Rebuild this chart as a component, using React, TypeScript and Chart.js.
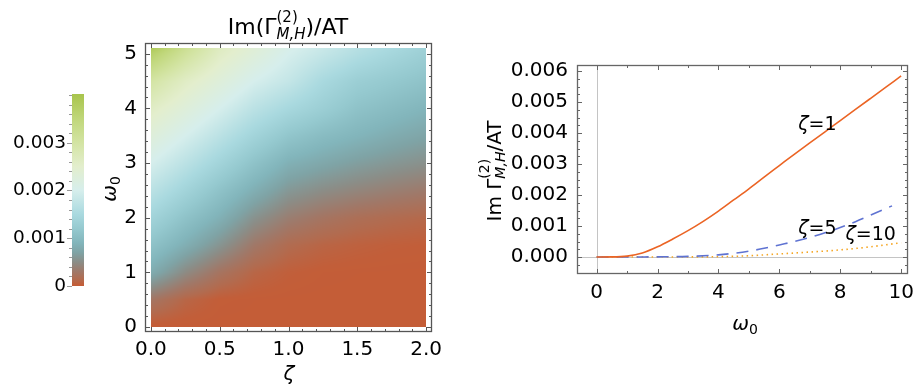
import React, { useEffect, useRef } from "react";
import { Chart, registerables } from "chart.js";
Chart.register(...registerables);

const FONT = "'DejaVu Sans', 'Liberation Sans', sans-serif";

// ---------------- colour bar ----------------
const colorbarTicks = [0, 0.001, 0.002, 0.003];
const colorbarTickLabels = ["0", "0.001", "0.002", "0.003"];
const colorbarMax = 0.00402;
const colorStopValues = [0, 0.00003, 0.00014, 0.0003, 0.0005, 0.0007, 0.0009, 0.0012, 0.0015, 0.002, 0.0025, 0.003, 0.0035, 0.004];
const colorStopColors = ["#c45d37", "#c25e39", "#b26b4f", "#a07868", "#8b8d87", "#7fa3a5", "#82b5bb", "#95c9cf", "#a9d9df", "#d6eeec", "#e3eecd", "#d3e4a3", "#c0d77a", "#a9c54e"];

// ---------------- density plot ----------------
const heatZeta = [0, 0.25, 0.5, 0.75, 1, 1.25, 1.5, 1.75, 2];
const heatOmega = [0, 0.5, 1, 1.5, 2, 2.5, 3, 3.5, 4, 4.5, 5, 5.1];
// one row per ω0 value, across ζ
const heatRow00 = [0, 0, 0, 0, 0, 0, 0, 0, 0];
const heatRow05 = [0.00027, 0.0001, 0.00002, 0.000008, 0.000003, 0.000001, 0, 0, 0];
const heatRow10 = [0.0008, 0.00048, 0.00025, 0.0001, 0.00004, 0.000015, 0.000008, 0.000005, 0.000003];
const heatRow15 = [0.0011, 0.00083, 0.00057, 0.0003, 0.00015, 0.00009, 0.00006, 0.00004, 0.00003];
const heatRow20 = [0.0014, 0.0011, 0.00085, 0.00055, 0.00036, 0.00026, 0.00019, 0.00015, 0.00012];
const heatRow25 = [0.0017, 0.0014, 0.0011, 0.00083, 0.0006, 0.0005, 0.00043, 0.00037, 0.00032];
const heatRow30 = [0.002, 0.0017, 0.0014, 0.0011, 0.00085, 0.00075, 0.00066, 0.00059, 0.00053];
const heatRow35 = [0.0023, 0.002, 0.0017, 0.0014, 0.00115, 0.001, 0.0009, 0.0008, 0.00072];
const heatRow40 = [0.0026, 0.0023, 0.002, 0.0017, 0.00148, 0.0013, 0.0011, 0.001, 0.0009];
const heatRow45 = [0.003, 0.0026, 0.0023, 0.002, 0.0018, 0.0015, 0.0013, 0.0012, 0.0011];
const heatRow50 = [0.0037, 0.0031, 0.0026, 0.0023, 0.002, 0.0018, 0.0016, 0.00145, 0.0013];
const heatRow51 = [0.0039, 0.0032, 0.00265, 0.00235, 0.00205, 0.00185, 0.00165, 0.0015, 0.00135];
const heatRows = [heatRow00, heatRow05, heatRow10, heatRow15, heatRow20, heatRow25, heatRow30, heatRow35, heatRow40, heatRow45, heatRow50, heatRow51];

const heatXTicks = [0, 0.5, 1, 1.5, 2];
const heatXLabels = ["0.0", "0.5", "1.0", "1.5", "2.0"];
const heatYTicks = [0, 1, 2, 3, 4, 5];
const heatYLabels = ["0", "1", "2", "3", "4", "5"];

// ---------------- line plot ----------------
const omegaZeta1 = [0, 0.5, 1, 1.5, 2, 2.5, 3, 3.5, 4, 4.5, 5, 5.5, 6, 6.5, 7, 7.5, 8, 8.5, 9, 9.5, 10];
const valuesZeta1 = [0, 0.000003, 0.00003, 0.00013, 0.00033, 0.00058, 0.00085, 0.00115, 0.00148, 0.00184, 0.0022, 0.00258, 0.00295, 0.00332, 0.00368, 0.00404, 0.0044, 0.00476, 0.00512, 0.00548, 0.00584];
const omegaZeta5 = [0, 1, 2, 3, 4, 4.5, 5, 5.5, 6, 6.5, 7, 7.5, 8, 8.5, 9, 9.7];
const valuesZeta5 = [0, 0.000001, 0.000005, 0.00002, 0.00007, 0.00012, 0.00019, 0.00028, 0.00039, 0.0005, 0.00063, 0.00078, 0.00095, 0.00114, 0.00135, 0.00165];
const omegaZeta10 = [0, 1, 2, 3, 4, 5, 6, 7, 8, 9, 10];
const valuesZeta10 = [0, 0, 0.000001, 0.000003, 0.00001, 0.00004, 0.0001, 0.00016, 0.00023, 0.00033, 0.00046];

const curveNames = ["1", "5", "10"];
const curveLabelOmega = [7.25, 7.25, 9.0];
const curveLabelValue = [0.00432, 0.00097, 0.00077];

const lineXTicks = [0, 2, 4, 6, 8, 10];
const lineXLabels = ["0", "2", "4", "6", "8", "10"];
const lineYTicks = [0, 0.001, 0.002, 0.003, 0.004, 0.005, 0.006];
const lineYLabels = ["0.000", "0.001", "0.002", "0.003", "0.004", "0.005", "0.006"];

// ---------------- helpers ----------------
function steps(from: number, to: number, step: number) {
  const out: number[] = [];
  for (let i = 0; from + i * step <= to + 1e-12; i++) out.push(+(from + i * step).toFixed(8));
  return out;
}

const fnt = (size: number, italic = false) => `${italic ? "italic " : ""}${size}px ${FONT}`;

type Piece = { t?: string; size: number; italic?: boolean; dy?: number; sup?: string; sub?: string; supDy?: number; subDy?: number };

function pieceWidth(ctx: CanvasRenderingContext2D, p: Piece) {
  if (p.sup !== undefined) {
    ctx.font = fnt(p.size);
    const a = ctx.measureText(p.sup).width;
    ctx.font = fnt(p.size, true);
    const b = ctx.measureText(p.sub || "").width;
    return Math.max(a, b);
  }
  ctx.font = fnt(p.size, p.italic);
  return ctx.measureText(p.t || "").width;
}

function drawRich(ctx: CanvasRenderingContext2D, pieces: Piece[], x: number, y: number) {
  ctx.save();
  ctx.textAlign = "left";
  ctx.textBaseline = "alphabetic";
  ctx.fillStyle = "#000";
  const total = pieces.reduce((s, p) => s + pieceWidth(ctx, p), 0);
  let cx = x - total / 2;
  for (const p of pieces) {
    const w = pieceWidth(ctx, p);
    if (p.sup !== undefined) {
      ctx.font = fnt(p.size);
      ctx.fillText(p.sup, cx, y + (p.supDy || 0));
      ctx.font = fnt(p.size, true);
      ctx.fillText(p.sub || "", cx, y + (p.subDy || 0));
    } else {
      ctx.font = fnt(p.size, p.italic);
      ctx.fillText(p.t || "", cx, y + (p.dy || 0));
    }
    cx += w;
  }
  ctx.restore();
}

function drawRotated(ctx: CanvasRenderingContext2D, pieces: Piece[], cx: number, cy: number, baseline: number) {
  ctx.save();
  ctx.translate(cx, cy);
  ctx.rotate(-Math.PI / 2);
  drawRich(ctx, pieces, 0, baseline);
  ctx.restore();
}

function drawFrame(chart: any, xMajor: number[], xMinor: number[], yMajor: number[], yMinor: number[], color: string) {
  const ctx: CanvasRenderingContext2D = chart.ctx;
  const { left, right, top, bottom } = chart.chartArea;
  const xs = chart.scales.x;
  const ys = chart.scales.y;
  ctx.save();
  ctx.strokeStyle = color;
  ctx.lineWidth = 1.3;
  ctx.strokeRect(left + 0.5, top + 0.5, right - left - 1, bottom - top - 1);
  ctx.lineWidth = 1;
  const tick = (x1: number, y1: number, x2: number, y2: number) => {
    ctx.beginPath();
    ctx.moveTo(x1, y1);
    ctx.lineTo(x2, y2);
    ctx.stroke();
  };
  const doX = (vals: number[], len: number) => vals.forEach((v) => {
    const p = Math.round(xs.getPixelForValue(v)) + 0.5;
    tick(p, bottom, p, bottom - len);
    tick(p, top, p, top + len);
  });
  const doY = (vals: number[], len: number) => vals.forEach((v) => {
    const p = Math.round(ys.getPixelForValue(v)) + 0.5;
    tick(left, p, left + len, p);
    tick(right, p, right - len, p);
  });
  doX(xMinor, 3);
  doX(xMajor, 5);
  doY(yMinor, 3);
  doY(yMajor, 5);
  ctx.restore();
}

function axis(position: string, min: number, max: number, values: number[], labels: string[], pad: number, fontSize: number, size: { width?: number; height?: number }) {
  return {
    type: "linear",
    position,
    min,
    max,
    grid: { display: false, drawTicks: false },
    border: { display: false },
    afterBuildTicks: (s: any) => {
      s.ticks = values.map((v) => ({ value: v }));
    },
    afterFit: (s: any) => {
      if (size.width !== undefined) s.width = size.width;
      if (size.height !== undefined) s.height = size.height;
    },
    ticks: {
      autoSkip: false,
      maxRotation: 0,
      minRotation: 0,
      padding: pad,
      color: "#000",
      font: { family: FONT, size: fontSize },
      callback: (_v: any, i: number) => labels[i],
    },
  };
}

const stopRGB = colorStopColors.map((h) => [parseInt(h.slice(1, 3), 16), parseInt(h.slice(3, 5), 16), parseInt(h.slice(5, 7), 16)]);
function colorFor(v: number) {
  const n = colorStopValues.length;
  if (v <= colorStopValues[0]) return stopRGB[0];
  if (v >= colorStopValues[n - 1]) return stopRGB[n - 1];
  let i = 0;
  while (i < n - 2 && v > colorStopValues[i + 1]) i++;
  const t = (v - colorStopValues[i]) / (colorStopValues[i + 1] - colorStopValues[i]);
  const a = stopRGB[i];
  const b = stopRGB[i + 1];
  return [a[0] + (b[0] - a[0]) * t, a[1] + (b[1] - a[1]) * t, a[2] + (b[2] - a[2]) * t];
}

function locate(arr: number[], v: number): [number, number] {
  if (v <= arr[0]) return [0, 0];
  if (v >= arr[arr.length - 1]) return [arr.length - 2, 1];
  let i = 0;
  while (i < arr.length - 2 && v > arr[i + 1]) i++;
  return [i, (v - arr[i]) / (arr[i + 1] - arr[i])];
}

function heatValue(z: number, w: number) {
  const [i, tx] = locate(heatZeta, z);
  const [j, ty] = locate(heatOmega, w);
  const a = heatRows[j][i];
  const b = heatRows[j][i + 1];
  const c = heatRows[j + 1][i];
  const d = heatRows[j + 1][i + 1];
  return (a * (1 - tx) + b * tx) * (1 - ty) + (c * (1 - tx) + d * tx) * ty;
}

// ---------------- charts ----------------
function makeColorbar(canvas: HTMLCanvasElement) {
  const minor = steps(0, 0.004, 0.0002);
  return new Chart(canvas, {
    type: "scatter",
    data: { datasets: [] },
    options: {
      responsive: false,
      animation: false,
      devicePixelRatio: 1,
      layout: { padding: { left: 0, top: 94, right: 837, bottom: 104 } },
      plugins: { legend: { display: false }, tooltip: { enabled: false } },
      scales: {
        x: { type: "linear", display: false },
        y: axis("left", 0, colorbarMax, colorbarTicks, colorbarTickLabels, 6, 18.5, { width: 72 }) as any,
      },
    },
    plugins: [
      {
        id: "colorbar",
        afterDraw(chart: any) {
          const ctx: CanvasRenderingContext2D = chart.ctx;
          const ys = chart.scales.y;
          const { left, right } = chart.chartArea;
          const y0 = ys.getPixelForValue(0);
          const y1 = ys.getPixelForValue(colorbarMax);
          const g = ctx.createLinearGradient(0, y0, 0, y1);
          colorStopValues.forEach((v, i) => g.addColorStop(Math.min(1, v / colorbarMax), colorStopColors[i]));
          ctx.save();
          ctx.fillStyle = g;
          ctx.fillRect(left, y1, right - left, y0 - y1);
          ctx.strokeStyle = "#999";
          ctx.lineWidth = 1;
          minor.forEach((v) => {
            const p = Math.round(ys.getPixelForValue(v)) + 0.5;
            const major = colorbarTicks.some((m) => Math.abs(m - v) < 1e-9);
            ctx.beginPath();
            ctx.moveTo(left - (major ? 5 : 3), p);
            ctx.lineTo(left, p);
            ctx.stroke();
          });
          ctx.restore();
        },
      },
    ],
  } as any);
}

function makeHeatmap(canvas: HTMLCanvasElement) {
  const xMinor = steps(0, 2, 0.1);
  const yMinor = steps(0, 5, 0.2);
  return new Chart(canvas, {
    type: "scatter",
    data: { datasets: [] },
    options: {
      responsive: false,
      animation: false,
      devicePixelRatio: 1,
      layout: { padding: { left: 0, top: 43, right: 489, bottom: 0 } },
      plugins: { legend: { display: false }, tooltip: { enabled: false } },
      scales: {
        x: axis("bottom", -0.043, 2.043, heatXTicks, heatXLabels, 6, 20, { height: 58 }) as any,
        y: axis("left", -0.09, 5.196, heatYTicks, heatYLabels, 8, 20, { width: 145 }) as any,
      },
    },
    plugins: [
      {
        id: "density",
        afterDraw(chart: any) {
          const ctx: CanvasRenderingContext2D = chart.ctx;
          const xs = chart.scales.x;
          const ys = chart.scales.y;
          const x0 = Math.round(xs.getPixelForValue(heatZeta[0]));
          const x1 = Math.round(xs.getPixelForValue(heatZeta[heatZeta.length - 1]));
          const y0 = Math.round(ys.getPixelForValue(heatOmega[heatOmega.length - 1]));
          const y1 = Math.round(ys.getPixelForValue(heatOmega[0]));
          const w = x1 - x0;
          const h = y1 - y0;
          const img = ctx.createImageData(w, h);
          for (let py = 0; py < h; py++) {
            const om = ys.getValueForPixel(y0 + py + 0.5);
            for (let px = 0; px < w; px++) {
              const ze = xs.getValueForPixel(x0 + px + 0.5);
              const c = colorFor(heatValue(ze, om));
              const k = (py * w + px) * 4;
              img.data[k] = c[0];
              img.data[k + 1] = c[1];
              img.data[k + 2] = c[2];
              img.data[k + 3] = 255;
            }
          }
          ctx.putImageData(img, x0, y0);
          drawFrame(chart, heatXTicks, xMinor, heatYTicks, yMinor, "#555");
          drawRich(ctx, [
            { t: "Im(Γ", size: 22 },
            { sup: "(2)", sub: "M,H", size: 15, supDy: -12, subDy: 5 },
            { t: ")/AT", size: 22 },
          ], 288, 34);
          drawRich(ctx, [{ t: "ζ", size: 20, italic: true }], 289, 380);
          drawRotated(ctx, [{ t: "ω", size: 20, italic: true }, { t: "0", size: 14, dy: 4 }], 110, 189, 5.5);
        },
      },
    ],
  } as any);
}

function makeLines(canvas: HTMLCanvasElement) {
  const xMinor = steps(0, 10, 1);
  const yMinor = steps(-0.0005, 0.006, 0.00025);
  const toPts = (xs: number[], ys: number[]) => xs.map((x, i) => ({ x, y: ys[i] }));
  const lineColors = ["#eb6424", "#5f73d2", "#f5a623"];
  return new Chart(canvas, {
    type: "line",
    data: {
      datasets: [
        { data: toPts(omegaZeta1, valuesZeta1), borderColor: lineColors[0], borderWidth: 1.6, pointRadius: 0, cubicInterpolationMode: "monotone", fill: false },
        { data: toPts(omegaZeta5, valuesZeta5), borderColor: lineColors[1], borderWidth: 1.6, borderDash: [12, 8], pointRadius: 0, cubicInterpolationMode: "monotone", fill: false },
        { data: toPts(omegaZeta10, valuesZeta10), borderColor: lineColors[2], borderWidth: 1.6, borderDash: [1.5, 3.5], pointRadius: 0, cubicInterpolationMode: "monotone", fill: false },
      ],
    },
    options: {
      responsive: false,
      animation: false,
      devicePixelRatio: 1,
      layout: { padding: { left: 0, top: 65, right: 7, bottom: 0 } },
      plugins: { legend: { display: false }, tooltip: { enabled: false } },
      scales: {
        x: axis("bottom", -0.645, 10.226, lineXTicks, lineXLabels, 7, 20, { height: 116 }) as any,
        y: axis("left", -0.000548, 0.006194, lineYTicks, lineYLabels, 9, 20, { width: 577 }) as any,
      },
    },
    plugins: [
      {
        id: "axesLines",
        beforeDatasetsDraw(chart: any) {
          const ctx: CanvasRenderingContext2D = chart.ctx;
          const { left, right, top, bottom } = chart.chartArea;
          const px = Math.round(chart.scales.x.getPixelForValue(0)) + 0.5;
          const py = Math.round(chart.scales.y.getPixelForValue(0)) + 0.5;
          ctx.save();
          ctx.strokeStyle = "#c4c4c4";
          ctx.lineWidth = 1;
          ctx.beginPath();
          ctx.moveTo(px, top);
          ctx.lineTo(px, bottom);
          ctx.moveTo(left, py);
          ctx.lineTo(right, py);
          ctx.stroke();
          ctx.restore();
        },
        afterDraw(chart: any) {
          const ctx: CanvasRenderingContext2D = chart.ctx;
          drawFrame(chart, lineXTicks, xMinor, lineYTicks, yMinor, "#666");
          curveNames.forEach((n, i) => {
            const x = chart.scales.x.getPixelForValue(curveLabelOmega[i]);
            const y = chart.scales.y.getPixelForValue(curveLabelValue[i]);
            drawRich(ctx, [{ t: "ζ", size: 19, italic: true }, { t: "=" + n, size: 19 }], x, y + 7);
          });
          drawRich(ctx, [{ t: "ω", size: 20, italic: true }, { t: "0", size: 14, dy: 4 }], 745, 330);
          drawRotated(ctx, [
            { t: "Im Γ", size: 20 },
            { sup: "(2)", sub: "M,H", size: 14, supDy: -12, subDy: 4 },
            { t: "/AT", size: 20 },
          ], 494, 171, 7);
        },
      },
    ],
  } as any);
}

export default function App() {
  const c1 = useRef<HTMLCanvasElement>(null);
  const c2 = useRef<HTMLCanvasElement>(null);
  const c3 = useRef<HTMLCanvasElement>(null);
  useEffect(() => {
    const charts = [makeColorbar(c1.current!), makeHeatmap(c2.current!), makeLines(c3.current!)];
    return () => charts.forEach((c) => c.destroy());
  }, []);
  const cs: React.CSSProperties = { position: "absolute", left: 0, top: 0 };
  return (
    <div style={{ position: "absolute", left: 0, top: 0, width: 921, height: 390, background: "#fff", overflow: "hidden" }}>
      <canvas ref={c1} width={921} height={390} style={cs} />
      <canvas ref={c2} width={921} height={390} style={cs} />
      <canvas ref={c3} width={921} height={390} style={cs} />
    </div>
  );
}
